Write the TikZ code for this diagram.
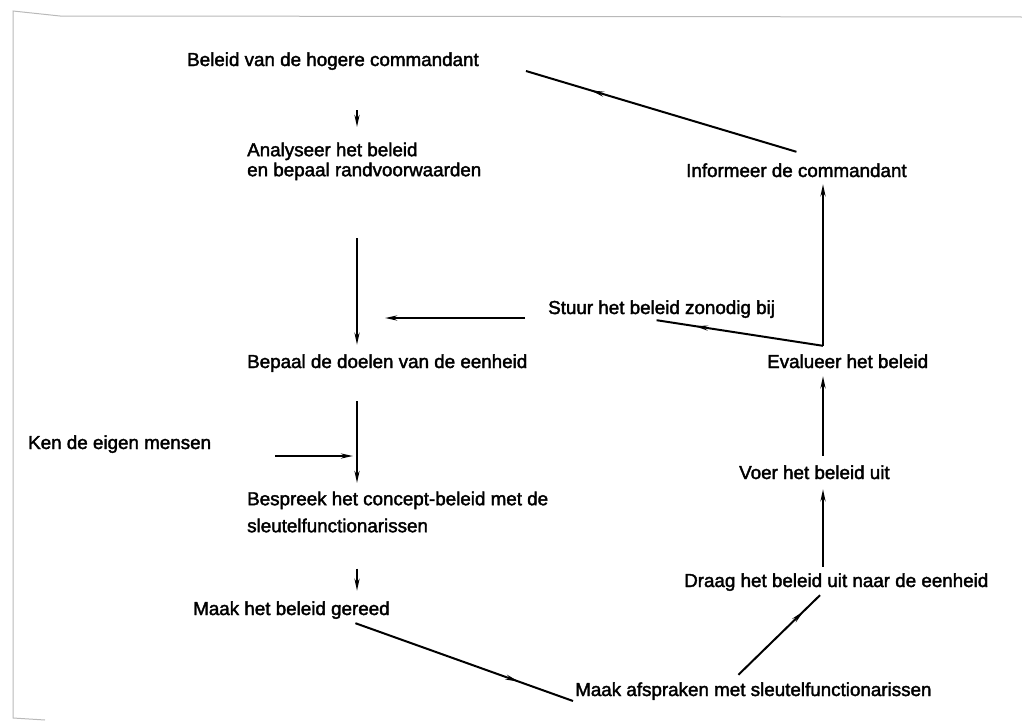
\documentclass[tikz,border=0pt]{standalone}
\usepackage{fontspec}
\setmainfont{Liberation Sans}
\newfontfamily\labelfont{Liberation Sans}[FakeBold=2]
\usetikzlibrary{arrows.meta,decorations.markings}
\tikzset{
  lbl/.style={anchor=base west,inner sep=0pt,text height=13.6pt,text depth=4pt,
    font=\labelfont\fontsize{18.8}{20}\selectfont},
  lbltwo/.style={anchor=north west,inner sep=0pt,align=left,
    font=\labelfont\fontsize{18.8}{#1}\selectfont},
  flow/.style={line width=2pt,-{Stealth[length=12pt,width=5pt]}},
  midflow/.style={line width=2pt,postaction={decorate},
    decoration={markings,mark=at position #1 with {\arrow{Stealth[length=13pt,width=5pt]}}}},
}
\begin{document}
\begin{tikzpicture}[x=1pt,y=-1pt]
        \useasboundingbox (0,0) rectangle (1022,723);
        \draw[gray!55,line width=1pt] (1022,17) -- (60,16) -- (13,11) -- (13,718) -- (45,720);
        \coordinate (spine) at (357,0);\coordinate (rspine) at (823,0);
        % left column
        \node[lbl] (beleid) at (187,66) {Beleid van de hogere commandant};
        \node[lbltwo=20] (analyse) at (247,142.4) {Analyseer het beleid\\en bepaal randvoorwaarden};
        \node[lbl] (bepaal) at (247,368) {Bepaal de doelen van de eenheid};
        \node[lbl] (ken) at (28,449) {Ken de eigen mensen};
        \node[lbltwo=27] (bespreek) at (247,491.4) {Bespreek het concept-beleid met de\\sleutelfunctionarissen};
        \node[lbl] (maak) at (193,615) {Maak het beleid gereed};
        % right column
        \node[lbl] (afspraken) at (575,696) {Maak afspraken met sleutelfunctionarissen};
        \node[lbl] (draag) at (684,587) {Draag het beleid uit naar de eenheid};
        \node[lbl] (voer) at (739,479) {Voer het beleid uit};
        \node[lbl] (evalueer) at (767,368) {Evalueer het beleid};
        \node[lbl] (stuur) at (548,314) {Stuur het beleid zonodig bij};
        \node[lbl] (informeer) at (686,177) {Informeer de commandant};
        \path (evalueer.north -| rspine) ++(0,-8.4) coordinate (corner);
        % connectors
        \draw[flow,shorten <=40pt,shorten >=15.4pt] (beleid.south -| spine) -- (analyse.north -| spine);
        \draw[flow,shorten <=58pt,shorten >=9.4pt] (analyse.south -| spine) -- (bepaal.north -| spine);
        \draw[flow,shorten <=23pt,shorten >=28pt] ([yshift=-8.8pt]stuur.west) coordinate (s1) -- (s1 -| spine);
        \draw[flow,shorten <=64pt,shorten >=4pt] ([yshift=-11.8pt]ken.east) coordinate (k1) -- (k1 -| spine);
        \draw[flow,shorten <=29pt,shorten >=8.4pt] (bepaal.south -| spine) -- (bespreek.north -| spine);
        \draw[flow,shorten <=36pt,shorten >=10.4pt] (bespreek.south -| spine) -- (maak.north -| spine);
        \draw[midflow=0.75] ([shift={(-34.5pt,-4pt)}]maak.south east) -- ([shift={(-2pt,-9.8pt)}]afspraken.west);
        \draw[midflow=0.8] ([shift={(-15pt,7.4pt)}]afspraken.north) -- ([shift={(-3pt,-4pt)}]draag.south -| rspine);
        \draw[flow,shorten <=6.4pt,shorten >=6pt] (draag.north -| rspine) -- (voer.south -| rspine);
        \draw[flow,shorten <=9.4pt,shorten >=4pt] (voer.north -| rspine) -- (evalueer.south -| rspine);
        \draw[flow,shorten >=3pt] (corner) -- (informeer.south -| rspine);
        \draw[midflow=0.77] (corner) -- ([shift={(-5pt,-2pt)}]stuur.south);
        \draw[midflow=0.76] ([yshift=11.4pt]informeer.north) -- ([shift={(47pt,-9.8pt)}]beleid.east);
\end{tikzpicture}
\end{document}
